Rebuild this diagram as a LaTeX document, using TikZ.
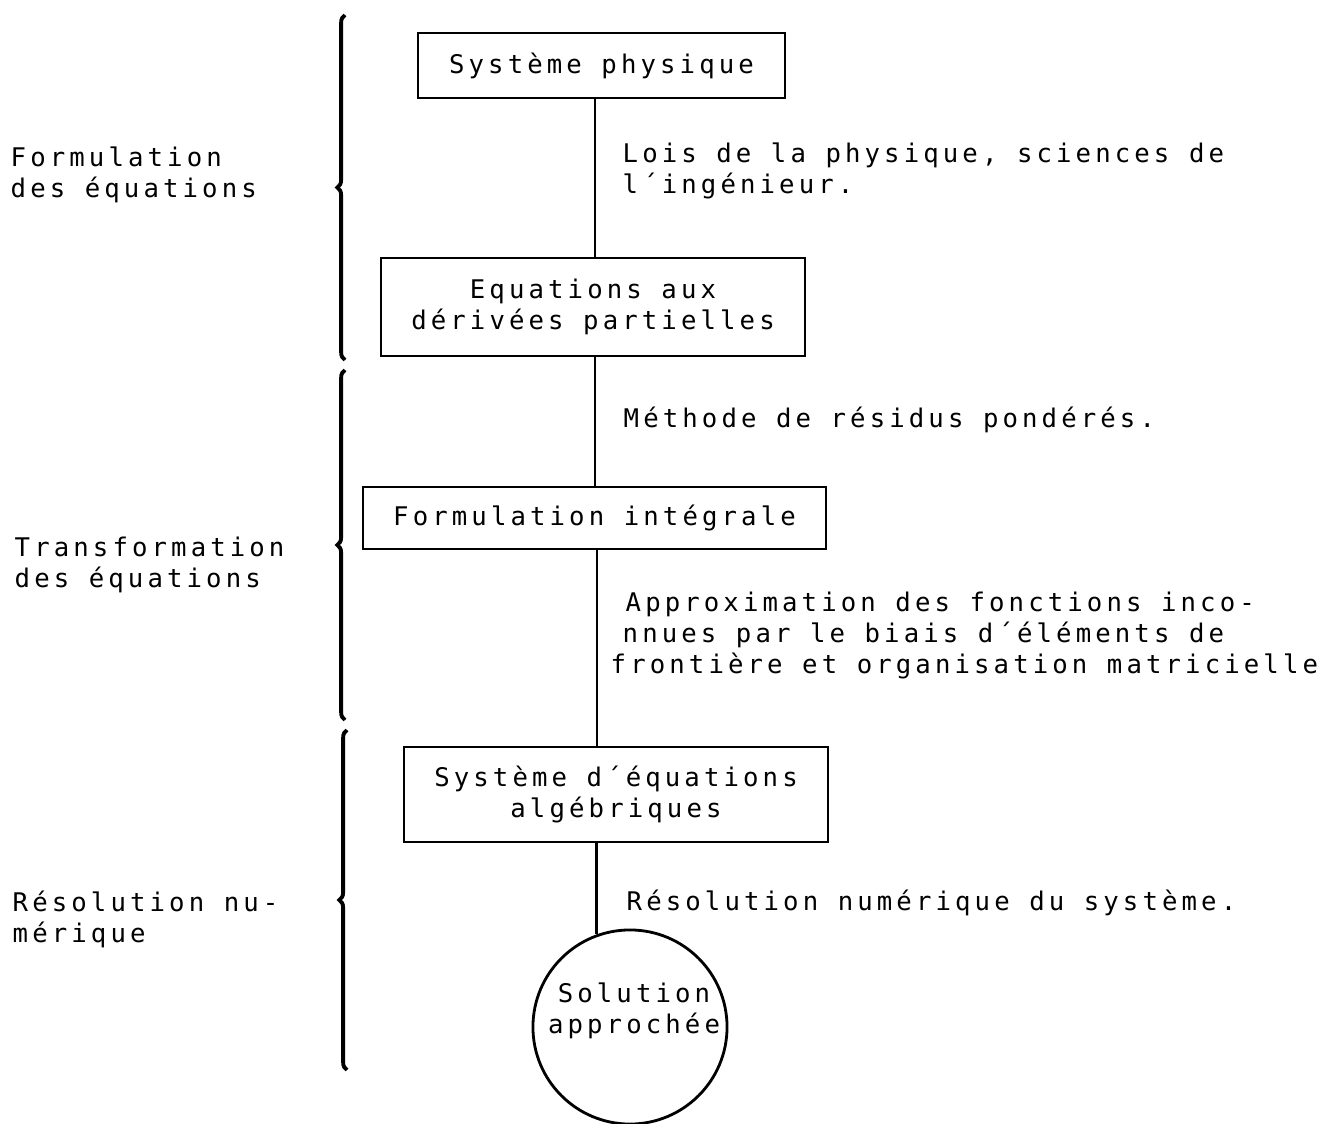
\documentclass[tikz,border=0pt]{standalone}
\usepackage{fontspec}
\newfontfamily\dotfont[LetterSpace=16]{DejaVu Sans Mono}
\usetikzlibrary{decorations.pathreplacing}
\begin{document}
\begin{tikzpicture}[x=0.01cm,y=-0.01cm,
  txt/.style={font=\dotfont\fontsize{7.3}{8.8}\selectfont, inner sep=0pt},
  box/.style={txt, draw, line width=0.7pt, align=center},
  lbl/.style={txt, align=left, anchor=base west},
  link/.style={line width=0.8pt},
  brc/.style={line width=1.1pt, decorate, decoration={brace, amplitude=2.2pt, aspect=0.5}}]
\useasboundingbox (0,0) rectangle (1323,1124);

% boxes
\node[box, minimum width=3.67cm, minimum height=0.65cm] (sp) at (601.5,65.5) {Système physique};
\node[box, minimum width=4.24cm, minimum height=0.98cm] (eq) at (593,307) {Equations aux\\dérivées partielles};
\node[box, minimum width=4.63cm, minimum height=0.62cm] (fi) at (594.5,518) {Formulation intégrale};
\node[box, minimum width=4.24cm, minimum height=0.95cm] (sa) at (616,794.5) {Système d´équations\\algébriques};
\node[draw, circle, line width=0.8pt, minimum size=1.94cm, inner sep=0pt] (so) at (630,1027) {};
\node[txt, align=center] (sot) at (634,1011) {Solution\\approchée};

% vertical connector
\coordinate (l1) at (595,0);
\coordinate (l2) at (597,0);
\draw[link] (sp.south -| l1) -- (eq.north -| l1);
\draw[link] (eq.south -| l1) -- (fi.north -| l1);
\draw[link] (fi.south -| l2) -- (sa.north -| l2);
\draw[link] (sa.south -| so.110) -- (so.110);

% right-hand texts (anchor = baseline of last line)
\node[lbl] (t1) at (622,193) {Lois de la physique, sciences de\\l´ingénieur.};
\node[lbl] (t2) at (623,427) {Méthode de résidus pondérés.};
\node[lbl] (t3) at (610,673) {\hspace*{0.15cm}Approximation des fonctions inco-\\\hspace*{0.12cm}nnues par le biais d´éléments de\\frontière et organisation matricielle};
\node[lbl] (t4) at (626,910) {Résolution numérique du système.};

% left-hand texts
\node[lbl] (f1) at (10,197) {Formulation\\des équations};
\node[lbl] (f2) at (14,587) {Transformation\\des équations};
\node[lbl] (f3) at (12,942) {Résolution nu-\\mérique};

% braces
\coordinate (b1a) at (345,360); \coordinate (b1b) at (345,15);
\coordinate (b2a) at (345,720); \coordinate (b2b) at (345,370);
\coordinate (b3a) at (347,1070); \coordinate (b3b) at (347,730);
\draw[brc] (b1a) -- (b1b);
\draw[brc] (b2a) -- (b2b);
\draw[brc] (b3a) -- (b3b);
\end{tikzpicture}
\end{document}
